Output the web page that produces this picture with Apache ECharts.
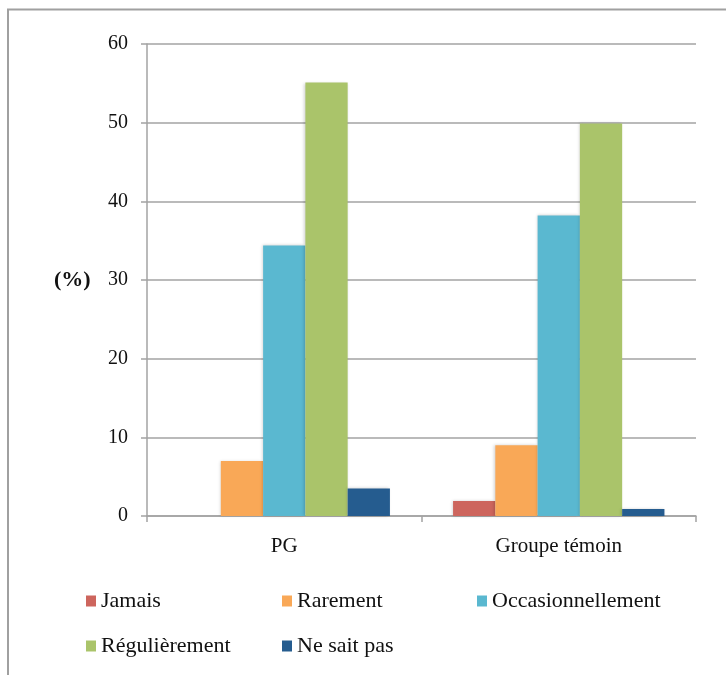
<!DOCTYPE html>
<html>
<head>
<meta charset="utf-8">
<style>
  html, body { margin: 0; padding: 0; background: #ffffff; }
  #chart { width: 726px; height: 675px; }
</style>
<script src="https://cdn.jsdelivr.net/npm/echarts@6/dist/echarts.min.js"></script>
</head>
<body>
<div id="chart"></div>
<script>
// Survey answers (%) per group
const categories = ['PG', 'Groupe témoin'];
const seriesNames = ['Jamais', 'Rarement', 'Occasionnellement', 'Régulièrement', 'Ne sait pas'];
const jamais = [0, 1.9];
const rarement = [7.0, 9.0];
const occasionnellement = [34.4, 38.2];
const regulierement = [55.1, 49.9];
const neSaitPas = [3.5, 0.9];
const yTicks = [0, 10, 20, 30, 40, 50, 60];

const values = [jamais, rarement, occasionnellement, regulierement, neSaitPas];
const colors = ['#CD655D', '#F9A857', '#5AB8D0', '#AAC46A', '#255C8F'];
const FONT = 'Liberation Serif';
const AXIS_GRAY = '#a3a3a3';

const chart = echarts.init(document.getElementById('chart'), null, { renderer: 'canvas' });

// legend laid out as a 3-column grid, one legend component per entry
const legendPos = [
  { left: 86, top: 590 },
  { left: 282, top: 590 },
  { left: 477, top: 590 },
  { left: 86, top: 635 },
  { left: 282, top: 635 }
];
const legends = seriesNames.map((n, i) => ({
  data: [n],
  left: legendPos[i].left,
  top: legendPos[i].top,
  itemWidth: 10,
  itemHeight: 11,
  icon: 'rect',
  selectedMode: false,
  textStyle: { fontFamily: FONT, fontSize: 22, color: '#111', padding: [0, 0, 0, 0] },
  padding: 0
}));

chart.setOption({
  animation: false,
  color: colors,
  textStyle: { fontFamily: FONT },
  grid: { left: 147, right: 30, top: 44, bottom: 159, containLabel: false },
  legend: legends,
  xAxis: {
    type: 'category',
    data: categories,
    boundaryGap: true,
    axisLine: { show: true, lineStyle: { color: AXIS_GRAY, width: 1.5 } },
    axisTick: { show: true, length: 6, alignWithLabel: false, lineStyle: { color: AXIS_GRAY, width: 1.5 } },
    axisLabel: { margin: 20, fontFamily: FONT, fontSize: 21, color: '#111' }
  },
  yAxis: {
    type: 'value',
    min: yTicks[0],
    max: yTicks[yTicks.length - 1],
    interval: 10,
    axisLine: { show: true, lineStyle: { color: AXIS_GRAY, width: 1.5 } },
    axisTick: { show: true, length: 6, lineStyle: { color: AXIS_GRAY, width: 1.5 } },
    splitLine: { show: true, lineStyle: { color: AXIS_GRAY, width: 1.5 } },
    axisLabel: { margin: 19, fontFamily: FONT, fontSize: 20, color: '#111' }
  },
  series: seriesNames.map((n, i) => ({
    name: n,
    type: 'bar',
    data: values[i],
    barGap: '0%',
    barCategoryGap: '23%',
    itemStyle: {
      color: colors[i],
      shadowColor: 'rgba(0,0,0,0.18)',
      shadowBlur: 3,
      shadowOffsetX: -1,
      shadowOffsetY: 0
    }
  })),
  graphic: [
    {
      type: 'rect',
      shape: { x: 8, y: 9.5, width: 900, height: 900 },
      style: { fill: null, stroke: '#a0a0a0', lineWidth: 2 },
      silent: true,
      z: -1
    },
    {
      type: 'text',
      left: 54,
      top: 269,
      style: { text: '(%)', fontFamily: FONT, fontSize: 22, fontWeight: 'bold', fill: '#111' }
    }
  ]
});
</script>
</body>
</html>
